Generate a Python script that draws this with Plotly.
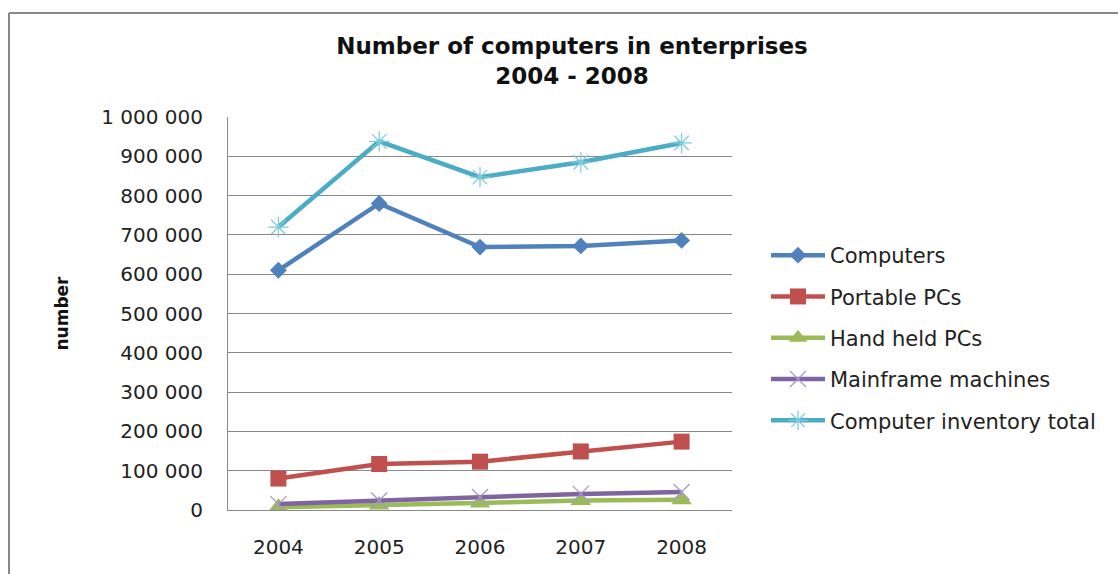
import plotly.graph_objects as go

# Number of computers in enterprises, 2004-2008
years = ["2004", "2005", "2006", "2007", "2008"]
computers = [610000, 780000, 669000, 672000, 686000]
portable_pcs = [80000, 117000, 123000, 149000, 174000]
hand_held_pcs = [7000, 13000, 18000, 24000, 26000]
mainframes = [15000, 24000, 33000, 41000, 46000]
inventory_total = [720000, 938000, 847000, 885000, 934000]

series = [
    ("Computers", computers, "#4F81BD",
     dict(symbol="diamond", size=13, color="#4F81BD")),
    ("Portable PCs", portable_pcs, "#C0504D",
     dict(symbol="square", size=16, color="#C0504D")),
    ("Hand held PCs", hand_held_pcs, "#9BBB59",
     dict(symbol="triangle-up", size=18, color="#9BBB59")),
    ("Mainframe machines", mainframes, "#8064A2",
     dict(symbol="x-thin-open", size=16, color="#A898CC",
          line=dict(width=1.3, color="#A898CC"))),
    ("Computer inventory total", inventory_total, "#4BACC6",
     dict(symbol="asterisk-open", size=17, color="#7FCCDD",
          line=dict(width=1.3, color="#7FCCDD"))),
]

fig = go.Figure()
for name, values, color, marker in series:
    fig.add_trace(go.Scatter(
        x=years, y=values, name=name, mode="lines+markers",
        line=dict(color=color, width=4.5),
        marker=marker, legendgroup=name,
    ))

grid = "#898989"
W, H = 1118, 574
L, R, T, B = 228, 386, 117, 64

fig.update_layout(
    width=W, height=H,
    margin=dict(l=L, r=R, t=T, b=B, pad=0, autoexpand=False),
    paper_bgcolor="white", plot_bgcolor="white",
    separators=". ",
    font=dict(family="DejaVu Sans", size=20, color="#222222"),
    title=dict(
        text="Number of computers in enterprises<br>2004 - 2008",
        font=dict(family="DejaVu Sans", size=23, color="#111111",
                  weight="bold"),
        x=572 / W, xanchor="center", xref="container",
        y=1 - 54 / H, yanchor="middle", yref="container",
    ),
    showlegend=True,
    legend=dict(
        x=(766 - L) / (W - L - R), xanchor="left",
        y=(H - B - 235) / (H - T - B), yanchor="top",
        font=dict(family="DejaVu Sans", size=21, color="#222222"),
        itemwidth=54, tracegroupgap=11, bgcolor="rgba(0,0,0,0)",
    ),
    xaxis=dict(
        type="category", range=[-0.5, 4.5], automargin=False,
        showgrid=False, showline=True, linecolor=grid, linewidth=1,
        ticks="", ticklabelstandoff=19,
        tickfont=dict(family="DejaVu Sans", size=20, color="#222222"),
    ),
    yaxis=dict(
        range=[0, 1000000], dtick=100000, tickformat=",d", automargin=False,
        showgrid=True, gridcolor=grid, gridwidth=1,
        showline=True, linecolor=grid, linewidth=1,
        zeroline=False, ticks="", ticklabelstandoff=20,
        tickfont=dict(family="DejaVu Sans", size=20, color="#222222"),
        title=dict(text="number", standoff=28,
                   font=dict(family="DejaVu Sans", size=17,
                             color="#111111", weight="bold")),
    ),
)

# Outer chart frame (top and left edges)
pw, ph = W - L - R, H - T - B
fx = lambda px: (px - L) / pw
fy = lambda py: (H - B - py) / ph
frame = dict(color="#888888", width=2)
fig.add_shape(type="line", xref="paper", yref="paper",
              x0=fx(9), x1=fx(W + 5), y0=fy(13), y1=fy(13), line=frame)
fig.add_shape(type="line", xref="paper", yref="paper",
              x0=fx(9), x1=fx(9), y0=fy(13), y1=fy(H + 5), line=frame)

fig.write_html("out.html")
